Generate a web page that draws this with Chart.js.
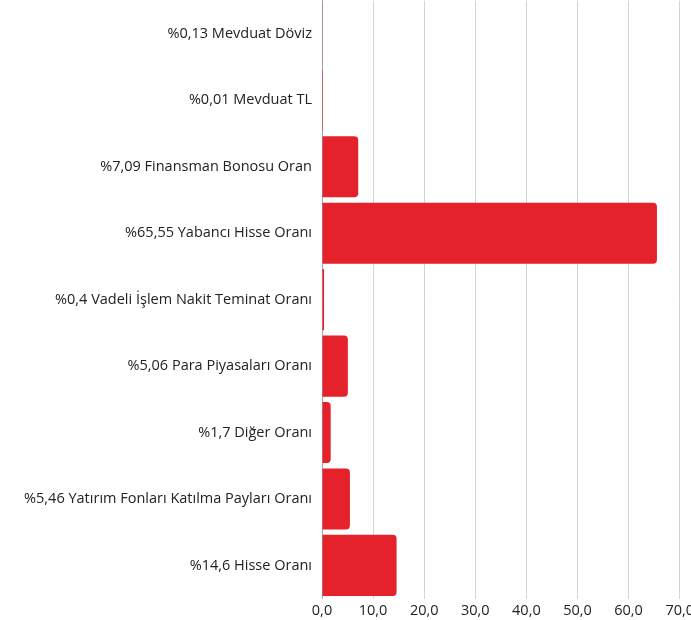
<!DOCTYPE html>
<html>
<head>
<meta charset="utf-8">
<script src="https://cdn.jsdelivr.net/npm/chart.js@4"></script>
<style>
  html, body { margin: 0; padding: 0; background: #fff; overflow: hidden; }
  #wrap { width: 698px; height: 642px; position: absolute; left: 0; top: -18px; }
</style>
</head>
<body>
<div id="wrap"><canvas id="myChart"></canvas></div>
<script>
const categories = [
    "Mevduat Döviz",
    "Mevduat TL",
    "Finansman Bonosu Oran",
    "Yabancı Hisse Oranı",
    "Vadeli İşlem Nakit Teminat Oranı",
    "Para Piyasaları Oranı",
    "Diğer Oranı",
    "Yatırım Fonları Katılma Payları Oranı",
    "Hisse Oranı"
];
const values = [0.13, 0.01, 7.09, 65.55, 0.4, 5.06, 1.7, 5.46, 14.6];
const tickMin = 0;
const tickMax = 70;
const tickStep = 10;

const fontFamily = "'Open Sans', sans-serif";

const labels = categories.map((name, i) =>
    "%" + String(values[i]).replace(".", ",") + " " + name
);

const charter = document.querySelector("#myChart");

const config = {
    type: "bar",
    data: {
        labels,
        datasets: [
            {
                data: values,
                backgroundColor: "#e5222b",
                borderRadius: 4,
                borderSkipped: "start",
                barPercentage: 0.92,
                categoryPercentage: 1,
            },
        ],
    },
    options: {
        indexAxis: "y",
        responsive: true,
        maintainAspectRatio: false,
        animation: false,
        layout: { padding: 0 },
        plugins: {
            legend: { display: false },
            tooltip: { enabled: false },
        },
        scales: {
            x: {
                min: tickMin,
                max: tickMax,
                ticks: {
                    stepSize: tickStep,
                    color: "#222",
                    padding: 4,
                    font: { family: fontFamily, size: 14.5 },
                    callback: (v) => Number(v).toFixed(1).replace(".", ","),
                },
                grid: { color: "#d4d4d4", drawTicks: false },
                border: { display: false },
            },
            y: {
                afterFit: (scale) => { scale.width = 322; },
                ticks: {
                    color: "#222",
                    padding: 10,
                    font: { family: fontFamily, size: 14.5 },
                },
                grid: { display: false, drawTicks: false },
                border: { display: true, color: "#aaa2a2" },
            },
        },
    },
};

new Chart(charter, config);
</script>
</body>
</html>
